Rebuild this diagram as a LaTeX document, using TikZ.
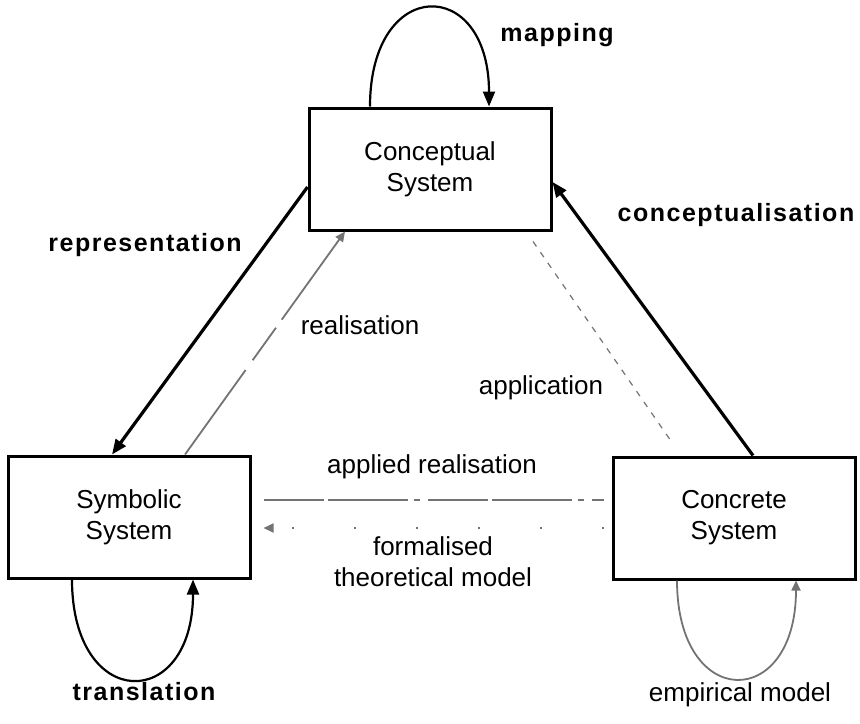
\documentclass[tikz,border=0pt]{standalone}
\usepackage{fontspec}
\setmainfont{Liberation Sans}
\newfontfamily\spacedfont[LetterSpace=6]{Liberation Sans}
\usetikzlibrary{positioning}
\usetikzlibrary{arrows.meta,calc}
\colorlet{hatch}{black!55}
\tikzset{
    %Define standard arrow tip
    >={Triangle[length=7.5pt,width=6pt]},
    % system boxes
    sysbox/.style={
           draw,
           line width=1.5pt,
           minimum width=121pt,
           minimum height=61pt,
           align=center,
           font=\fontsize{13}{15.5}\selectfont},
    % bold arrows
    pil/.style={
           ->,
           line width=1.6pt},
    % self arrows
    selfpil/.style={
           ->,
           line width=1.1pt},
    % grey arrows
    greypil/.style={
           hatch,
           line width=0.9pt,
           >={Triangle[length=5pt,width=4.5pt]}},
    % labels
    lbl/.style={font=\fontsize{13}{15.5}\selectfont},
    blbl/.style={font=\spacedfont\bfseries\fontsize{12.5}{15}\selectfont}
}
\begin{document}
\begin{tikzpicture}[x=0.5pt, y=-0.5pt]
\useasboundingbox (0,0) rectangle (860,723);

%%%%%%%%%%%%%%%%%%%%%%%%%%%%%%%%%

% systems
\node [sysbox] (con) at (430,169) {Conceptual\\System};
\node [sysbox] (sym) at (129,517) {Symbolic\\System};
\node [sysbox] (crt) at (734,518) {Concrete\\System};

% bold arrows
\draw [pil] ([yshift=-9pt]con.west) -- ($(sym.north)+(-17,0)$);
\draw [pil] ($(crt.north)+(19,0)$) -- ($(con.east)+(0,13)$);

% self arrows
\draw [selfpil] ($(con.north)+(-60,0)$) .. controls +(0,-131) and +(0,-131) .. ($(con.north)+(59,0)$);
\draw [selfpil] ($(sym.south)+(-57,0)$) .. controls +(0,133) and +(0,133) .. ($(sym.south)+(64,0)$);
\draw [greypil,->] ($(crt.south)+(-57,0)$) .. controls +(0,131) and +(0,131) .. ($(crt.south)+(62,0)$);

% grey arrows
\draw [greypil,->,dash pattern=on 52pt off 6pt on 20pt off 5pt] ($(sym.north)+(56,0)$) -- ($(con.south)+(-85,0)$);
\draw [greypil,line width=0.6pt,dash pattern=on 3pt off 3.5pt] ($(con.south)+(103,10)$) -- ($(crt.north)+(-62,-13)$);
\draw [greypil,dash pattern=on 30pt off 2pt on 40pt off 3pt on 3pt off 4pt] ($(sym.east)+(12,-17)$) -- ($(crt.west)+(-8,-18)$);
\draw [greypil,->,dash pattern=on 1pt off 30pt] ($(crt.west)+(-8,10)$) -- ($(sym.east)+(12,11)$);

% labels
\node [blbl] (mapl) at (557,35) {mapping};
\node [blbl] (repl) at (145,245) {representation};
\node [blbl] (cptl) at (736,215) {conceptualisation};
\node [blbl] (trl) at (144,692) {translation};
\node [lbl] (rel) at (360,325) {realisation};
\node [lbl] (appl) at (541,388) {application};
\node [lbl] (arl) at (432,467) {applied realisation};
\node [lbl, align=center] (ftm) at (433,562) {formalised\\theoretical model};
\node [lbl] (eml) at (740,695) {empirical model};

\end{tikzpicture}
\end{document}
